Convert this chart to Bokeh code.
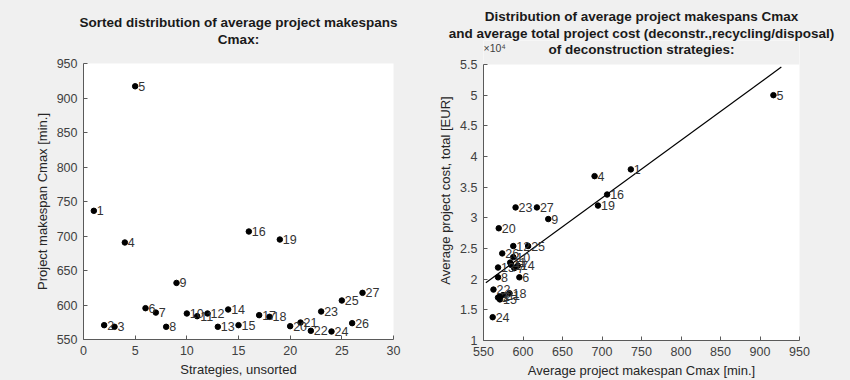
import re
import numpy as np
from bokeh.plotting import figure
from bokeh.models import (ColumnDataSource, Title, Label, FixedTicker, CustomJSTickFormatter,
                          Range1d, BoxAnnotation)
from bokeh.core.properties import value
from bokeh.embed import file_html
from bokeh.resources import INLINE

# ---- data ----
strategies = list(range(1, 28))
makespan = [736.5, 570.8, 568.4, 690.6, 917.0, 595.4, 589.0, 568.4, 632.0, 587.7,
            583.8, 587.7, 568.4, 593.5, 570.8, 706.5, 585.3, 582.9, 694.9, 569.3,
            574.6, 562.6, 590.6, 561.6, 606.5, 573.7, 617.6]
cost = [37900, 17200, 17000, 36800, 50000, 20300, 21800, 20300, 29800, 23600,
        22700, 25400, 21900, 22200, 16700, 33800, 22300, 17700, 32000, 28300,
        17400, 18300, 31700, 13800, 25400, 24200, 31700]
fit_x_range = [553, 927]

left_x_ticks = [0, 5, 10, 15, 20, 25, 30]
left_y_ticks = [550, 600, 650, 700, 750, 800, 850, 900, 950]
right_x_ticks = [550, 600, 650, 700, 750, 800, 850, 900, 950]
right_y_ticks = [10000, 15000, 20000, 25000, 30000, 35000, 40000, 45000, 50000, 55000]
right_y_limits = (10000, 55000)

FONT = "Liberation Sans"
BG = "#f0f0f0"
AX = "#5a5a5a"
TXT = "#404040"
TITLE_SIZE = "13.5px"

labels = [str(s) for s in strategies]
src = ColumnDataSource(dict(idx=strategies, ms=makespan, cost=cost, lab=labels))


def style(p):
    p.background_fill_color = "white"
    p.border_fill_color = BG
    p.outline_line_color = None
    p.xgrid.visible = False
    p.ygrid.visible = False
    for ax in (p.xaxis[0], p.yaxis[0]):
        ax.axis_line_color = AX
        ax.major_tick_line_color = AX
        ax.major_tick_in = 4
        ax.major_tick_out = 0
        ax.minor_tick_line_color = None
        ax.major_label_text_font = FONT
        ax.major_label_text_font_size = "12.5px"
        ax.major_label_text_color = TXT
        ax.axis_label_text_font = FONT
        ax.axis_label_text_font_size = "13px"
        ax.axis_label_text_font_style = "normal"
        ax.axis_label_text_color = "#262626"
        ax.axis_label_standoff = 4
        ax.major_label_standoff = 6


def add_titles(p, lines, gap):
    if gap:
        p.add_layout(Title(text=" ", text_font_size="1px", standoff=gap, offset=0), "above")
    for t in reversed(lines):
        p.add_layout(Title(text=t, align="center", text_font=FONT, text_font_size=TITLE_SIZE,
                           text_font_style="bold", text_color="#1a1a1a",
                           standoff=0, offset=0), "above")


# ---- left figure ----
p1 = figure(frame_width=310, frame_height=276, output_backend="svg", toolbar_location=None,
            x_range=Range1d(0, 30), y_range=Range1d(550, 950),
            min_border_left=83, min_border_right=32, min_border_top=63, min_border_bottom=41)
style(p1)
add_titles(p1, ["Sorted distribution of average project makespans", "Cmax:"], 14)
p1.xaxis.ticker = FixedTicker(ticks=left_x_ticks)
p1.yaxis.ticker = FixedTicker(ticks=left_y_ticks)
p1.xaxis.axis_label = "Strategies, unsorted"
p1.yaxis.axis_label = "Project makespan Cmax [min.]"
p1.scatter("idx", "ms", source=src, size=5.5, color="black")
p1.text("idx", "ms", text="lab", source=src, x_offset=3, text_baseline="middle",
        text_font=value(FONT), text_font_size="12.5px", text_color="#333333")

# ---- right figure ----
# the frame is extended 24px above the top tick (grey strip) so the exponent
# and the last title line can sit level with each other
data_h = 276
extra_px = 24
y_lo, y_hi = right_y_limits
y_top = y_hi + extra_px * (y_hi - y_lo) / data_h

p2 = figure(frame_width=316, frame_height=data_h + extra_px, output_backend="svg",
            toolbar_location=None,
            x_range=Range1d(550, 950), y_range=Range1d(y_lo, y_top),
            min_border_left=58, min_border_right=51, min_border_top=40, min_border_bottom=40)
style(p2)
add_titles(p2, ["Distribution of average project makespans Cmax",
                "and average total project cost (deconstr.,recycling/disposal)"], 0)
p2.add_layout(BoxAnnotation(bottom=y_hi, fill_color=BG, fill_alpha=1.0, line_color=None,
                            level="underlay"))
p2.yaxis.bounds = right_y_limits
p2.xaxis.ticker = FixedTicker(ticks=right_x_ticks)
p2.yaxis.ticker = FixedTicker(ticks=right_y_ticks)
p2.yaxis.formatter = CustomJSTickFormatter(code="return String(Math.round(tick/1000)/10);")
p2.xaxis.axis_label = "Average project makespan Cmax [min.]"
p2.yaxis.axis_label = "Average project cost, total [EUR]"

coef = np.polyfit(np.array(makespan), np.array(cost), 1)
fit_y = [float(np.polyval(coef, x)) for x in fit_x_range]
p2.line(fit_x_range, fit_y, line_color="black", line_width=1.2)
p2.scatter("ms", "cost", source=src, size=5.5, color="black")
p2.text("ms", "cost", text="lab", source=src, x_offset=3, text_baseline="middle",
        text_font=value(FONT), text_font_size="12.5px", text_color="#333333")
p2.add_layout(Label(x=0, y=data_h + 17, x_units="screen", y_units="screen", text="×10⁴",
                    text_baseline="middle", text_align="left", text_font=FONT,
                    text_font_size="10.5px", text_color=TXT))
p2.add_layout(Label(x=158, y=data_h + 15, x_units="screen", y_units="screen",
                    text="of deconstruction strategies:", text_baseline="middle",
                    text_align="center", text_font=FONT, text_font_size=TITLE_SIZE,
                    text_font_style="bold", text_color="#1a1a1a"))

# two independent roots laid side by side (so their frames are not aligned)
html = file_html([p1, p2], INLINE)
css = ("<style>html, body { background: #f0f0f0 !important; }"
       " body { display: flex !important; flex-direction: row !important;"
       " align-items: flex-start !important; }</style>")
if "</head>" in html:
    html = html.replace("</head>", css + "</head>", 1)
else:
    html = re.sub(r"(<body[^>]*>)", r"\1" + css, html, count=1)
open("out.html", "w").write(html)
